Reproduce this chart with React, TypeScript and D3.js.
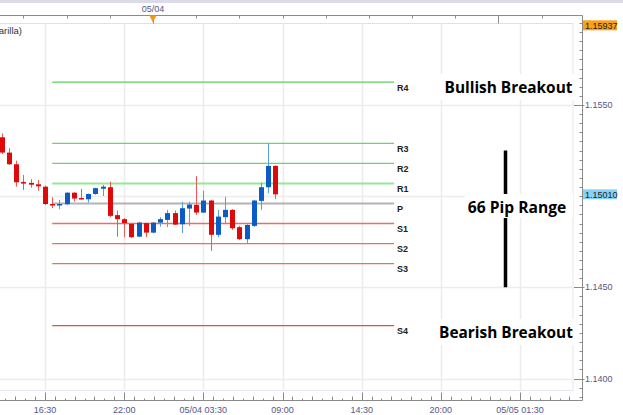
import * as d3 from "d3";

// EUR/USD 30-minute candles, 05/03 13:30 .. 05/04 08:30
const opens = [1.15323, 1.15239, 1.15175, 1.15078, 1.15073, 1.15065, 1.15052, 1.14957, 1.1495, 1.14956, 1.15019, 1.1499, 1.14983, 1.15012, 1.15041, 1.15049, 1.14896, 1.14874, 1.14848, 1.14778, 1.14852, 1.148, 1.14855, 1.1487, 1.14907, 1.14846, 1.14932, 1.14952, 1.1491, 1.14976, 1.14788, 1.14885, 1.14925, 1.1483, 1.14764, 1.14837, 1.14974, 1.15049, 1.15166];
const highs = [1.15345, 1.15263, 1.15195, 1.15116, 1.15093, 1.15089, 1.15058, 1.14994, 1.14979, 1.15022, 1.15021, 1.1504, 1.15014, 1.15046, 1.15062, 1.1508, 1.14921, 1.1488, 1.1485, 1.1486, 1.14855, 1.14858, 1.14885, 1.14925, 1.14921, 1.1497, 1.1497, 1.15111, 1.1503, 1.1498, 1.14925, 1.14997, 1.14928, 1.14837, 1.14846, 1.1498, 1.15074, 1.1529, 1.15168];
const lows = [1.15231, 1.15171, 1.15052, 1.15034, 1.15047, 1.1503, 1.14952, 1.14934, 1.14928, 1.1495, 1.1497, 1.14982, 1.14965, 1.15008, 1.15001, 1.14885, 1.14778, 1.14775, 1.1477, 1.14775, 1.14775, 1.14797, 1.14833, 1.1483, 1.14842, 1.14797, 1.14837, 1.14897, 1.14907, 1.147, 1.14775, 1.14852, 1.14815, 1.1476, 1.14738, 1.14832, 1.14925, 1.15016, 1.14985];
const closes = [1.15239, 1.15175, 1.15076, 1.15069, 1.15063, 1.15054, 1.14957, 1.1495, 1.14957, 1.15019, 1.14987, 1.14983, 1.15012, 1.15044, 1.15052, 1.14892, 1.14874, 1.14852, 1.14775, 1.14855, 1.148, 1.14855, 1.14874, 1.14907, 1.14844, 1.14934, 1.14954, 1.1491, 1.14976, 1.14788, 1.14888, 1.14925, 1.14824, 1.14764, 1.14842, 1.14976, 1.15049, 1.15166, 1.1501];

const firstCandle = new Date(2016, 4, 3, 13, 30);
const candleMinutes = 30;

// Camarilla pivot levels
const levelNames = ["R4", "R3", "R2", "R1", "P", "S1", "S2", "S3", "S4"];
const levelValues = [1.15625, 1.1529, 1.1518, 1.1507, 1.1496, 1.1485, 1.1474, 1.1463, 1.1429];
const levelColors = ["#5ccf5c", "#6ad46a", "#6ad46a", "#93e893", "#b3b3b3", "#ef6b6b", "#ef6b6b", "#ef6b6b", "#d9504c"];
const levelStart = new Date(2016, 4, 3, 17, 0);
const levelEnd = new Date(2016, 4, 4, 16, 45);

const priceTicks = [1.14, 1.145, 1.155];
const lastPrice = 1.1501;
const highMarker = 1.15937;
const rangeTop = 1.1525;
const rangeBottom = 1.145;

const bottomTickLabels = ["16:30", "22:00", "05/04 03:30", "09:00", "14:30", "20:00", "05/05 01:30"];
const bottomTickStart = new Date(2016, 4, 3, 16, 30);
const topLabel = "05/04";

const W = 623;
const H = 415;
const plotRight = 573;
const axisX = 582.5;
const topAxisY = 15.5;
const bottomAxisY = 400.5;
const frameTop = 23.5;
const frameBottom = 390.5;

const axisFont = "'Liberation Sans', Arial, sans-serif";
const axisColor = "#55558a";
const noteFont = "'Open Sans', sans-serif";

const App = () => {
  const x = d3
    .scaleTime()
    .domain([new Date(2016, 4, 3, 16, 30), new Date(2016, 4, 5, 1, 30)])
    .range([45, 520]);
  const y = d3.scaleLinear().domain([1.14, 1.155]).range([378.5, 105]);

  const candles = opens.map((o, i) => ({
    t: new Date(firstCandle.getTime() + i * candleMinutes * 60000),
    o,
    h: highs[i],
    l: lows[i],
    c: closes[i],
  }));

  const majorTimes = bottomTickLabels.map(
    (_, i) => new Date(bottomTickStart.getTime() + i * 330 * 60000)
  );
  const minorTimes: { t: Date; k: number }[] = [];
  for (let i = -1; i < majorTimes.length; i++) {
    for (let k = 1; k < 8; k++) {
      minorTimes.push({
        t: new Date(bottomTickStart.getTime() + (i * 330 + (k * 330) / 8) * 60000),
        k,
      });
    }
  }

  const topTicks = d3.timeHour.every(3)!.range(new Date(2016, 4, 3, 15), new Date(2016, 4, 5, 4));
  const priceMinor = d3.range(1.139, 1.1605, 0.0005);
  const gridPrices = [1.14, 1.145, 1.15, 1.155];
  const bw = 5;
  const dayX = x(new Date(2016, 4, 4));

  return (
    <svg
      width={W}
      height={H}
      style={{ position: "absolute", left: 0, top: 0, background: "#fff" }}
    >
      <rect x={0} y={0} width={W} height={3} fill="#dadae8" />

      {/* plot frame + grid */}
      <rect x={-1} y={frameTop} width={plotRight + 1} height={frameBottom - frameTop} fill="none" stroke="#e3e6ee" />
      <line x1={0} x2={plotRight} y1={frameTop} y2={frameTop} stroke="#d8dbe4" strokeDasharray="1,1" />
      {majorTimes.map((t, i) => (
        <line key={i} x1={Math.round(x(t)) + 0.5} x2={Math.round(x(t)) + 0.5} y1={frameTop} y2={frameBottom} stroke="#ececec" strokeWidth={1.5} />
      ))}
      {gridPrices.map((p, i) => (
        <line key={i} x1={0} x2={plotRight} y1={Math.round(y(p)) + 0.5} y2={Math.round(y(p)) + 0.5} stroke="#ececec" strokeWidth={1.5} />
      ))}

      <text x={22} y={34} textAnchor="end" fontSize={9.5} fontFamily={axisFont} fill="#333">
        Pivots (Camarilla)
      </text>

      {/* pivot levels */}
      {levelValues.map((v, i) => (
        <g key={levelNames[i]}>
          <line
            x1={x(levelStart)}
            x2={x(levelEnd)}
            y1={y(v)}
            y2={y(v)}
            stroke={levelColors[i]}
            strokeWidth={levelNames[i] === "R1" || levelNames[i] === "P" ? 2 : 1.3}
          />
          <text x={x(levelEnd) + 3} y={y(v) + 8.5} fontSize={9} fontWeight="bold" fontFamily={axisFont} fill="#222">
            {levelNames[i]}
          </text>
        </g>
      ))}

      {/* candles */}
      {candles.map((d, i) => {
        const up = d.c >= d.o;
        const cx = Math.round(x(d.t)) + 0.5;
        const top = y(Math.max(d.o, d.c));
        const bot = y(Math.min(d.o, d.c));
        return (
          <g key={i}>
            <line x1={cx} x2={cx} y1={y(d.h)} y2={y(d.l)} stroke={up ? "#5b9be0" : "#ee5a5a"} strokeWidth={1} />
            <rect
              x={cx - bw / 2}
              y={top}
              width={bw}
              height={Math.max(1.5, bot - top)}
              fill={up ? "#0b5cc4" : "#de0a0a"}
            />
          </g>
        );
      })}

      {/* annotations */}
      <line x1={505.5} x2={505.5} y1={y(rangeTop)} y2={y(rangeBottom)} stroke="#000" strokeWidth={3.5} />
      <rect x={437} y={74} width={137} height={26} fill="#fff" />
      <text x={508.5} y={93} textAnchor="middle" fontSize={15.4} fontWeight="bold" fontFamily={noteFont} fill="#000">
        Bullish Breakout
      </text>
      <rect x={465} y={194} width={108} height={24} fill="#fff" />
      <text x={517} y={213} textAnchor="middle" fontSize={15.6} fontWeight="bold" fontFamily={noteFont} fill="#000">
        66 Pip Range
      </text>
      <rect x={435} y={319} width={139} height={26} fill="#fff" />
      <text x={506} y={338} textAnchor="middle" fontSize={15.4} fontWeight="bold" fontFamily={noteFont} fill="#000">
        Bearish Breakout
      </text>

      {/* top time axis */}
      <line x1={0} x2={axisX} y1={topAxisY} y2={topAxisY} stroke="#8a8a8a" />
      {topTicks.map((t, i) => {
        const tx = Math.round(x(t)) + 0.5;
        const day = t.getHours() === 0;
        return <line key={i} x1={tx} x2={tx} y1={topAxisY} y2={topAxisY + (day ? 8 : 3)} stroke="#8a8a8a" />;
      })}
      <text x={dayX} y={12} textAnchor="middle" fontSize={9} fontFamily={axisFont} fill={axisColor}>
        {topLabel}
      </text>
      <path
        d={`M${dayX - 3.5},${topAxisY}L${dayX + 3.5},${topAxisY}L${dayX},${topAxisY + 7}Z`}
        fill="#f7941d"
      />

      {/* bottom time axis */}
      <line x1={0} x2={axisX} y1={bottomAxisY} y2={bottomAxisY} stroke="#8a8a8a" />
      {minorTimes.map((m, i) => {
        const tx = Math.round(x(m.t)) + 0.5;
        if (tx < 0 || tx > plotRight) return null;
        return <line key={i} x1={tx} x2={tx} y1={bottomAxisY} y2={bottomAxisY - (m.k % 2 ? 4 : 2)} stroke="#8a8a8a" />;
      })}
      {majorTimes.map((t, i) => (
        <g key={i}>
          <line x1={Math.round(x(t)) + 0.5} x2={Math.round(x(t)) + 0.5} y1={bottomAxisY} y2={bottomAxisY - 8} stroke="#8a8a8a" />
          <text x={x(t)} y={413} textAnchor="middle" fontSize={9} fontFamily={axisFont} fill={axisColor}>
            {bottomTickLabels[i]}
          </text>
        </g>
      ))}

      {/* right price axis */}
      <line x1={axisX} x2={axisX} y1={topAxisY} y2={bottomAxisY} stroke="#8a8a8a" />
      {priceMinor.map((p, i) => {
        const py = Math.round(y(p)) + 0.5;
        if (py < topAxisY + 2 || py > bottomAxisY - 2) return null;
        return <line key={i} x1={axisX - 3} x2={axisX} y1={py} y2={py} stroke="#8a8a8a" />;
      })}
      {priceTicks.map((p, i) => (
        <g key={i}>
          <line x1={plotRight + 1} x2={axisX + 2} y1={Math.round(y(p)) + 0.5} y2={Math.round(y(p)) + 0.5} stroke="#8a8a8a" />
          <text x={585} y={y(p) + 3} fontSize={9} fontFamily={axisFont} fill={axisColor}>
            {d3.format(".4f")(p)}
          </text>
        </g>
      ))}
      <rect x={583} y={y(highMarker) - 5} width={34} height={10} fill="#f9a11b" />
      <text x={585} y={y(highMarker) + 3.2} fontSize={9} fontFamily={axisFont} fill="#222">
        {d3.format(".5f")(highMarker)}
      </text>
      <rect x={583} y={y(lastPrice) - 5} width={34} height={10} fill="#86d3f7" />
      <text x={585} y={y(lastPrice) + 3.2} fontSize={9} fontFamily={axisFont} fill="#222">
        {d3.format(".5f")(lastPrice)}
      </text>
    </svg>
  );
};

export default App;
